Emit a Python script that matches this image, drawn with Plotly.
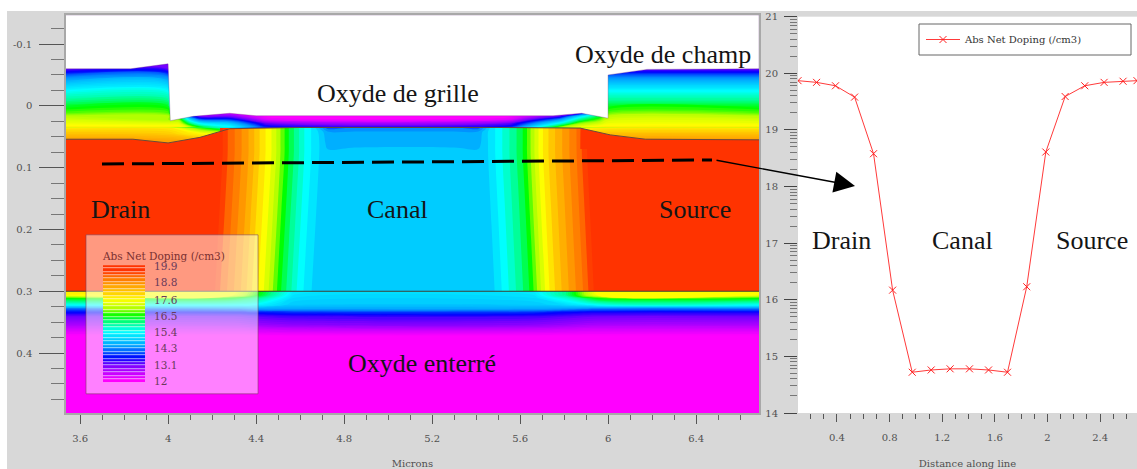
import plotly.graph_objects as go

W, H = 1137, 469

# ---------- colour map of net doping ----------
cmap_z = [12.0, 12.5, 13.1, 13.6, 14.3, 14.78, 15.4, 16.0, 16.5, 17.0, 17.6, 18.2, 18.8, 19.3, 19.55, 19.9]
cmap_c = ["#ff00ff", "#c800ff", "#7000ff", "#0000ff", "#0090ff", "#00c4ff", "#00ffff", "#00ff90", "#00ff00",
          "#b0ff00", "#ffff00", "#ffc000", "#ff8c00", "#ff6000", "#ff3300", "#ff3300"]
colorscale = [[min(1.0, round((z - 12.0) / 7.9, 5)), c] for z, c in zip(cmap_z, cmap_c)]

# ---------- oxide above the silicon film ----------
x_ox = [3.536, 4.0, 4.05, 4.1, 4.145, 4.28, 4.45, 5.55, 5.78, 5.87, 5.96, 6.0, 6.686]
y_ox = [-0.07, -0.06, -0.05, -0.04, -0.023, -0.01, 0.0, 0.012, 0.017, 0.022, 0.028, 0.035]
z_ox = [
    [13.0, 13.0, 12.0, 12.0, 12.0, 12.0, 12.0, 12.0, 12.0, 12.0, 13.0, 13.0, 13.0],
    [13.1, 13.1, 12.0, 12.0, 12.0, 12.0, 12.0, 12.0, 12.0, 12.0, 13.1, 13.1, 13.1],
    [14.0, 14.0, 12.0, 12.0, 12.0, 12.0, 12.0, 12.0, 12.0, 12.0, 14.0, 14.0, 14.0],
    [14.6, 14.6, 12.0, 12.0, 12.0, 12.0, 12.0, 12.0, 12.0, 12.0, 14.6, 14.6, 14.6],
    [15.4, 15.4, 12.0, 12.0, 12.0, 12.0, 12.0, 12.0, 12.0, 12.0, 15.4, 15.4, 15.4],
    [15.9, 15.9, 12.0, 12.0, 12.0, 12.0, 12.0, 12.0, 12.0, 12.0, 15.9, 15.9, 15.9],
    [16.3, 16.3, 12.0, 12.0, 12.0, 12.0, 12.0, 12.0, 12.0, 12.0, 16.3, 16.3, 16.3],
    [16.7, 16.7, 15.0, 13.0, 12.5, 12.5, 12.0, 12.0, 12.5, 13.2, 16.0, 16.7, 16.7],
    [17.0, 17.0, 16.2, 14.0, 13.0, 13.0, 12.0, 12.0, 13.2, 15.0, 16.3, 17.0, 17.0],
    [17.2, 16.9, 16.8, 15.0, 14.0, 13.8, 12.3, 12.3, 14.3, 15.9, 16.7, 17.2, 17.2],
    [17.4, 17.3, 17.3, 16.0, 15.2, 14.8, 13.1, 13.1, 15.4, 16.8, 17.2, 17.4, 17.4],
    [17.7, 17.7, 17.7, 17.2, 16.5, 15.5, 13.8, 13.8, 16.9, 17.5, 17.7, 17.7, 17.7],
]

y_ox_low = [0.035, 0.045, 0.055, 0.07]
x_ox_low_l = [3.536, 4.0, 4.145, 4.236]
z_ox_low_l = [
    [17.7, 17.7, 16.5, 15.8],
    [18.1, 18.0, 17.6, 17.4],
    [18.5, 18.4, 18.2, 18.0],
    [18.7, 18.7, 18.7, 18.7],
]
x_ox_low_r = [5.873, 6.0, 6.686]
z_ox_low_r = [
    [17.5, 17.7, 17.7],
    [18.0, 18.1, 18.1],
    [18.3, 18.5, 18.5],
    [18.6, 18.7, 18.7],
]

# ---------- silicon film ----------
x_si = [3.536, 4.13, 4.165, 4.20, 4.235, 4.27, 4.305, 4.34, 4.375, 4.41, 4.445, 4.48, 4.515, 4.55, 4.585, 4.62,
        4.655, 4.69, 4.725, 4.85, 5.3, 5.41, 5.44, 5.47,
        5.50, 5.53, 5.56, 5.59, 5.62, 5.65, 5.68, 5.71, 5.74, 5.77, 5.80, 5.83, 5.86, 5.89, 5.92, 5.95, 6.686]
y_si = [0.035, 0.042, 0.06, 0.075, 0.3]
si_left_top = [19.75, 19.75, 19.75, 19.75, 19.72, 19.3, 19.0, 18.7, 18.4, 18.0, 17.65, 17.3, 16.8, 16.3, 15.9, 15.5]
si_right_top = [15.35, 15.6, 15.85, 16.1, 16.4, 16.9, 17.35, 17.75, 18.05, 18.3, 18.55, 18.8, 19.05, 19.4, 19.72, 19.75, 19.75]
si_mid_035 = [15.2, 14.6, 14.0, 14.2, 14.2, 14.0, 14.5, 15.1]
si_mid_042 = [15.2, 14.9, 14.45, 14.45, 14.45, 14.45, 14.85, 15.1]
si_mid_060 = [15.2, 14.95, 14.6, 14.6, 14.6, 14.6, 14.85, 15.1]
si_mid_075 = [15.2, 14.95, 14.75, 14.8, 14.8, 14.75, 14.85, 15.1]
si_row_bottom = [19.75, 19.75, 19.75, 19.72, 19.3, 19.0, 18.7, 18.4, 18.0, 17.65, 17.3, 16.8, 16.3, 15.9, 15.5, 15.2,
                 14.95, 14.72, 14.75, 14.8, 14.8, 14.78, 14.78, 14.85,
                 15.1, 15.35, 15.6, 15.85, 16.1, 16.4, 16.9, 17.35, 17.75, 18.05, 18.3, 18.55, 18.8, 19.05, 19.4, 19.72, 19.75]
z_si = [si_left_top + si_mid_035 + si_right_top,
        si_left_top + si_mid_042 + si_right_top,
        si_left_top + si_mid_060 + si_right_top,
        si_left_top + si_mid_075 + si_right_top,
        si_row_bottom]

# ---------- buried oxide ----------
x_box = [3.536, 4.3, 4.4, 4.57, 5.66, 5.81, 5.95, 6.686]
y_box = [0.3, 0.306, 0.311, 0.322, 0.328, 0.334, 0.341, 0.354, 0.374, 0.497]
z_box = [
    [17.7, 17.5, 16.6, 15.2, 15.2, 16.0, 17.6, 17.6],
    [17.6, 17.4, 16.5, 15.1, 15.1, 16.0, 17.5, 17.5],
    [16.5, 16.4, 16.0, 15.0, 15.0, 15.6, 16.5, 16.5],
    [15.4, 15.4, 15.3, 14.8, 14.8, 15.0, 15.4, 15.4],
    [14.1, 14.3, 14.5, 14.5, 14.5, 14.4, 14.2, 14.2],
    [13.6, 13.6, 13.7, 13.8, 13.8, 13.6, 13.5, 13.5],
    [13.1, 13.1, 13.2, 13.3, 13.3, 13.2, 13.1, 13.1],
    [12.7, 12.7, 12.8, 12.9, 12.9, 12.8, 12.7, 12.7],
    [11.9, 11.9, 11.9, 11.9, 11.9, 11.9, 11.9, 11.9],
    [11.9, 11.9, 11.9, 11.9, 11.9, 11.9, 11.9, 11.9],
]

# ---------- outlines ----------
surface_x = [3.536, 3.83, 4.0, 4.0, 4.01, 4.114, 4.28, 4.40, 5.75, 5.88, 6.0, 6.0, 6.177, 6.686, 6.686, 3.536]
surface_y = [-0.06, -0.06, -0.068, -0.068, 0.024, 0.017, 0.012, 0.016, 0.016, 0.012, 0.02, -0.05, -0.059, -0.06, -0.147, -0.147]
si_edge_x = [3.536, 3.84, 4.0, 4.145, 4.28, 4.6, 5.5, 5.873, 6.01, 6.17, 6.686]
si_edge_y = [0.054, 0.054, 0.060, 0.051, 0.037, 0.035, 0.035, 0.036, 0.047, 0.054, 0.055]
wedge_l_x = [3.536, 3.84, 4.0, 4.145, 4.236, 4.236, 3.536]
wedge_l_y = [0.054, 0.054, 0.060, 0.051, 0.042, 0.07, 0.07]
wedge_r_x = [5.873, 6.01, 6.17, 6.686, 6.686, 5.873]
wedge_r_y = [0.036, 0.047, 0.054, 0.055, 0.07, 0.07]
film_bottom_x = [3.536, 6.686]
film_bottom_y = [0.3, 0.3]
box_x = [3.627, 4.409, 4.409, 3.627, 3.627]
box_y = [0.2087, 0.2087, 0.466, 0.466, 0.2087]

# ---------- doping scale key ----------
key_levels = [12.0, 12.24, 12.48, 12.72, 12.96, 13.2, 13.44, 13.68, 13.92, 14.16, 14.4, 14.64, 14.88, 15.12, 15.36,
              15.6, 15.84, 16.08, 16.32, 16.56, 16.8, 17.04, 17.28, 17.52, 17.76, 18.0, 18.24, 18.48, 18.72, 18.96,
              19.2, 19.44, 19.68, 19.9]
key_ticks = [12, 13.1, 14.3, 15.4, 16.5, 17.6, 18.8, 19.9]
key_labels = ["12", "13.1", "14.3", "15.4", "16.5", "17.6", "18.8", "19.9"]

# ---------- profile along the cut line ----------
line_x = [0.104, 0.245, 0.389, 0.534, 0.678, 0.823, 0.972, 1.116, 1.26, 1.407, 1.552, 1.696, 1.842, 1.987, 2.134,
          2.283, 2.43, 2.574, 2.68]
line_y = [19.87, 19.84, 19.78, 19.58, 18.58, 16.17, 14.72, 14.76, 14.78, 14.78, 14.76, 14.72, 16.23, 18.61, 19.59,
          19.78, 19.84, 19.86, 19.87]

# ---------- tick labels ----------
left_xticks = [3.6, 4.0, 4.4, 4.8, 5.2, 5.6, 6.0, 6.4]
left_xlabels = ["3.6", "4", "4.4", "4.8", "5.2", "5.6", "6", "6.4"]
left_yticks = [-0.1, 0, 0.1, 0.2, 0.3, 0.4]
left_ylabels = ["-0.1", "0", "0.1", "0.2", "0.3", "0.4"]
right_xticks = [0.4, 0.8, 1.2, 1.6, 2.0, 2.4]
right_xlabels = ["0.4", "0.8", "1.2", "1.6", "2", "2.4"]
right_yticks = [14, 15, 16, 17, 18, 19, 20, 21]
right_ylabels = ["14", "15", "16", "17", "18", "19", "20", "21"]
decade_offsets = [0.301, 0.477, 0.602, 0.699, 0.778, 0.845, 0.903, 0.954]
right_yminor = [d + o for d in range(14, 21) for o in decade_offsets]


def px(v):
    return v / W


def py(v):
    return 1 - v / H


TICKFONT = dict(family="DejaVu Serif", size=10, color="#505050")
BLACK_TEXT = "#151515"
RED_EDGE = "#ff3300"

fig = go.Figure()


def contour_style(step):
    return dict(
        colorscale=colorscale, zmin=12, zmax=19.9, autocontour=False, showscale=False,
        contours=dict(coloring="fill", start=12, end=19.9, size=step, showlines=False),
        line=dict(width=0), hoverinfo="skip",
    )


for xs, ys, zs, step in [(x_si, y_si, z_si, 0.27), (x_ox, y_ox, z_ox, 0.1), (x_ox_low_l, y_ox_low, z_ox_low_l, 0.1),
                         (x_ox_low_r, y_ox_low, z_ox_low_r, 0.1), (x_box, y_box, z_box, 0.1)]:
    fig.add_trace(go.Contour(x=xs, y=ys, z=zs, xaxis="x", yaxis="y", **contour_style(step)))

for xs, ys in [(wedge_l_x, wedge_l_y), (wedge_r_x, wedge_r_y)]:
    fig.add_trace(go.Scatter(x=xs, y=ys, mode="lines", fill="toself", fillcolor=RED_EDGE,
                             line=dict(width=0), xaxis="x", yaxis="y", showlegend=False, hoverinfo="skip"))

fig.add_trace(go.Scatter(x=surface_x, y=surface_y, mode="lines", fill="toself", fillcolor="white",
                         line=dict(width=0.6, color="rgba(110,60,130,0.55)"),
                         xaxis="x", yaxis="y", showlegend=False, hoverinfo="skip"))
fig.add_trace(go.Scatter(x=si_edge_x, y=si_edge_y, mode="lines", line=dict(width=1, color="#6a4a3a"),
                         xaxis="x", yaxis="y", showlegend=False, hoverinfo="skip"))
fig.add_trace(go.Scatter(x=film_bottom_x, y=film_bottom_y, mode="lines", line=dict(width=1, color="#403c30"),
                         xaxis="x", yaxis="y", showlegend=False, hoverinfo="skip"))
fig.add_trace(go.Scatter(x=box_x, y=box_y, mode="lines", fill="toself", fillcolor="rgba(255,255,255,0.5)",
                         line=dict(width=1, color="rgba(120,60,90,0.55)"),
                         xaxis="x", yaxis="y", showlegend=False, hoverinfo="skip"))

fig.add_trace(go.Scatter(
    x=line_x, y=line_y, mode="lines+markers", name="Abs Net Doping (/cm3)",
    line=dict(color="#ff3a3a", width=1),
    marker=dict(symbol="x-thin", size=7, line=dict(color="#ff2020", width=1), color="#ff2020"),
    xaxis="x2", yaxis="y2", showlegend=True,
))

fig.add_trace(go.Heatmap(
    x=[0], y=key_levels, z=[[v] for v in key_levels], colorscale=colorscale, zmin=12, zmax=19.9,
    showscale=False, ygap=0.6, xaxis="x3", yaxis="y3", hoverinfo="skip",
))

shapes = [
    dict(type="rect", xref="paper", yref="paper", x0=0, x1=1, y0=py(11), y1=1, fillcolor="white",
         line=dict(width=0), layer="below"),
    dict(type="rect", xref="paper", yref="paper", x0=0, x1=px(7), y0=0, y1=1, fillcolor="white",
         line=dict(width=0), layer="below"),
    dict(type="line", xref="paper", yref="paper", x0=px(102), y0=py(164), x1=px(712), y1=py(160),
         line=dict(color="black", width=3, dash="22px,8px")),
    dict(type="rect", xref="paper", yref="paper", x0=px(919), x1=px(1131), y0=py(55), y1=py(24), fillcolor="white",
         line=dict(width=1, color="#666666")),
]

texts = [
    ("Oxyde de champ", 663, 55), ("Oxyde de grille", 398, 94), ("Drain", 120, 210), ("Canal", 397, 210),
    ("Source", 695, 210), ("Oxyde enterré", 422, 363), ("Drain", 841, 241), ("Canal", 962, 241),
    ("Source", 1092, 241),
]
annotations = [dict(text=t, x=px(x), y=py(y), xref="paper", yref="paper", showarrow=False, xanchor="center",
                    yanchor="middle", font=dict(family="Liberation Serif", size=26, color=BLACK_TEXT))
               for t, x, y in texts]
annotations.append(dict(text="Abs Net Doping (/cm3)", x=px(163), y=py(256), xref="paper", yref="paper",
                        xanchor="center", yanchor="middle", showarrow=False,
                        font=dict(family="DejaVu Serif", size=10.5, color="#7a3030")))
annotations.append(dict(x=px(855), y=py(186), xref="paper", yref="paper", ax=-140, ay=-26, axref="pixel",
                        ayref="pixel", text="", showarrow=True, arrowhead=2, arrowsize=3, arrowwidth=1.4,
                        arrowcolor="black"))

fig.update_layout(
    width=W, height=H, margin=dict(l=0, r=0, t=0, b=0, pad=0),
    paper_bgcolor="#d8d8d8", plot_bgcolor="white",
    shapes=shapes, annotations=annotations,
    showlegend=True,
    legend=dict(x=px(921), y=py(39.5), xanchor="left", yanchor="middle", bgcolor="rgba(0,0,0,0)",
                borderwidth=0, itemwidth=34,
                font=dict(family="DejaVu Serif", size=10, color="#333333")),
    xaxis=dict(domain=[px(66), px(759)], range=[3.536, 6.686], anchor="y", tickmode="array", tickvals=left_xticks,
               ticktext=left_xlabels, ticks="outside", ticklen=9, tickcolor="#555555", tickfont=TICKFONT,
               ticklabelstandoff=6, showgrid=False, zeroline=False, showline=True, linecolor="#a8a8a8",
               linewidth=1.5, mirror=True, automargin=False,
               minor=dict(dtick=0.1, tick0=3.6, ticks="outside", ticklen=5, tickcolor="#666666", showgrid=False),
               title=dict(text="Microns", font=dict(family="DejaVu Serif", size=10, color="#505050"), standoff=18)),
    yaxis=dict(domain=[py(413), py(15)], range=[0.497, -0.147], anchor="x", tickmode="array", tickvals=left_yticks,
               ticktext=left_ylabels, ticks="outside", ticklen=25, tickcolor="#555555", tickfont=TICKFONT,
               ticklabelstandoff=5, showgrid=False, zeroline=False, showline=True, linecolor="#a8a8a8",
               linewidth=1.5, mirror=True, automargin=False,
               minor=dict(dtick=0.025, tick0=0, ticks="outside", ticklen=13, tickcolor="#777777", showgrid=False)),
    xaxis2=dict(domain=[px(798), 1], range=[0.104, 2.68], anchor="y2", tickmode="array", tickvals=right_xticks,
                ticktext=right_xlabels, ticks="outside", ticklen=8, tickcolor="#555555", tickfont=TICKFONT,
                ticklabelstandoff=7, showgrid=False, zeroline=False, showline=False, automargin=False,
                minor=dict(dtick=0.1, tick0=0.4, ticks="outside", ticklen=5, tickcolor="#555555", showgrid=False),
                title=dict(text="Distance along line", font=dict(family="DejaVu Serif", size=10, color="#505050"),
                           standoff=18)),
    yaxis2=dict(domain=[py(413), py(16.7)], range=[14, 21], anchor="x2", tickmode="array", tickvals=right_yticks,
                ticktext=right_ylabels, ticks="outside", ticklen=13, tickcolor="#444444", tickfont=TICKFONT,
                ticklabelstandoff=4, showgrid=False, zeroline=False, showline=False, automargin=False,
                minor=dict(tickmode="array", tickvals=right_yminor, ticks="outside", ticklen=7,
                           tickcolor="#777777", showgrid=False)),
    xaxis3=dict(domain=[px(103), px(145)], anchor="y3", range=[-0.5, 0.5], showticklabels=False, ticks="",
                showgrid=False, zeroline=False, showline=False, automargin=False),
    yaxis3=dict(domain=[py(383), py(265)], anchor="x3", side="right", range=[11.88, 20.02], tickmode="array",
                tickvals=key_ticks, ticktext=key_labels, ticks="outside", ticklen=6, tickcolor="rgba(0,0,0,0)",
                tickfont=dict(family="DejaVu Serif", size=10.5, color="#6a3a5a"), showgrid=False, zeroline=False,
                showline=False, automargin=False),
)

fig.write_html("out.html", config=dict(displayModeBar=False), post_script="document.body.style.margin='0';")
